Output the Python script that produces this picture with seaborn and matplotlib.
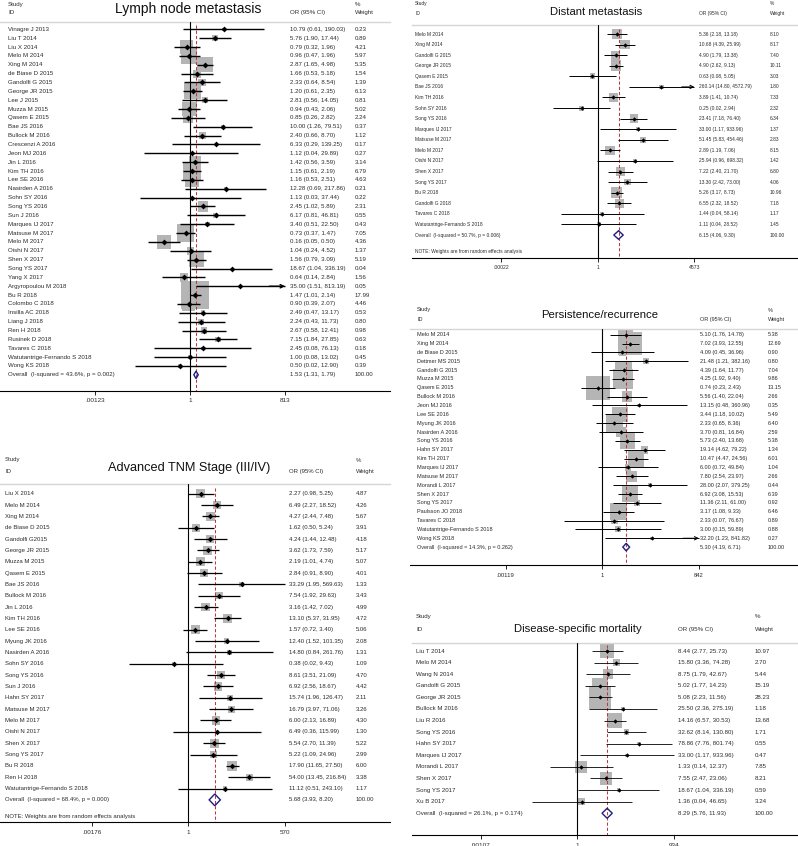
import matplotlib
matplotlib.use("Agg")
import matplotlib.pyplot as plt
import numpy as np
import pandas as pd
import seaborn as sns
from matplotlib.transforms import blended_transform_factory
from matplotlib.ticker import NullLocator, FixedLocator, FixedFormatter

# ---------------- DATA ----------------
# Lymph node metastasis
lnm_study = ["Vinagre J 2013", "Liu T 2014", "Liu X 2014", "Melo M 2014", "Xing M 2014",
             "de Biase D 2015", "Gandolfi G 2015", "George JR 2015", "Lee J 2015", "Muzza M 2015",
             "Qasem E 2015", "Bae JS 2016", "Bullock M 2016", "Crescenzi A 2016", "Jeon MJ 2016",
             "Jin L 2016", "Kim TH 2016", "Lee SE 2016", "Nasirden A 2016", "Sohn SY 2016",
             "Song YS 2016", "Sun J 2016", "Marques IJ 2017", "Matsuse M 2017", "Melo M 2017",
             "Oishi N 2017", "Shen X 2017", "Song YS 2017", "Yang X 2017", "Argyropoulou M 2018",
             "Bu R 2018", "Colombo C 2018", "Insilla AC 2018", "Liang J 2018", "Ren H 2018",
             "Rusinek D 2018", "Tavares C 2018", "Watutantrige-Fernando S 2018", "Wong KS 2018"]
lnm_or = [10.79, 5.76, 0.79, 0.96, 2.87, 1.66, 2.33, 1.20, 2.81, 0.94, 0.85, 10.00, 2.40, 6.33, 1.12,
          1.42, 1.15, 1.16, 12.28, 1.13, 2.45, 6.17, 3.40, 0.73, 0.16, 1.04, 1.56, 18.67, 0.64, 35.00,
          1.47, 0.90, 2.49, 2.24, 2.67, 7.15, 2.45, 1.00, 0.50]
lnm_lo = [0.61, 1.90, 0.32, 0.47, 1.65, 0.53, 0.64, 0.61, 0.56, 0.43, 0.26, 1.26, 0.66, 0.29, 0.04,
          0.56, 0.61, 0.53, 0.69, 0.03, 1.02, 0.81, 0.51, 0.37, 0.05, 0.24, 0.79, 1.04, 0.14, 1.51,
          1.01, 0.39, 0.47, 0.43, 0.58, 1.84, 0.08, 0.08, 0.02]
lnm_hi = [190.03, 17.44, 1.96, 1.96, 4.98, 5.18, 8.54, 2.35, 14.05, 2.06, 2.82, 79.51, 8.70, 139.25, 29.89,
          3.59, 2.19, 2.51, 217.86, 37.44, 5.89, 46.81, 22.50, 1.47, 0.50, 4.52, 3.09, 336.19, 2.84, 813.19,
          2.14, 2.07, 13.17, 11.73, 12.41, 27.85, 76.13, 13.02, 12.90]
lnm_wt = [0.23, 0.89, 4.21, 5.97, 5.35, 1.54, 1.39, 6.13, 0.81, 5.02, 2.24, 0.37, 1.12, 0.17, 0.27,
          3.14, 6.79, 4.63, 0.21, 0.22, 2.31, 0.55, 0.43, 7.05, 4.36, 1.37, 5.19, 0.04, 1.56, 0.05,
          17.99, 4.46, 0.53, 0.80, 0.98, 0.63, 0.18, 0.45, 0.39]
lnm_overall = [1.53, 1.31, 1.79]
lnm_i2, lnm_p = "43.6", "0.002"
lnm_ticks = [0.00123, 1, 813]
lnm_ticklabels = [".00123", "1", "813"]
lnm_arrows = ["Argyropoulou M 2018"]

# Advanced TNM stage
tnm_study = ["Liu X 2014", "Melo M 2014", "Xing M 2014", "de Biase D 2015", "Gandolfi G2015",
             "George JR 2015", "Muzza M 2015", "Qasem E 2015", "Bae JS 2016", "Bullock M 2016",
             "Jin L 2016", "Kim TH 2016", "Lee SE 2016", "Myung JK 2016", "Nasirden A 2016",
             "Sohn SY 2016", "Song YS 2016", "Sun J 2016", "Hahn SY 2017", "Matsuse M 2017",
             "Melo M 2017", "Oishi N 2017", "Shen X 2017", "Song YS 2017", "Bu R 2018",
             "Ren H 2018", "Watutantrige-Fernando S 2018"]
tnm_or = [2.27, 6.49, 4.27, 1.62, 4.24, 3.62, 2.19, 2.84, 33.29, 7.54, 3.16, 13.10, 1.57, 12.40, 14.80,
          0.38, 8.61, 6.92, 15.74, 16.79, 6.00, 6.49, 5.54, 5.22, 17.90, 54.00, 11.12]
tnm_lo = [0.98, 2.27, 2.44, 0.50, 1.44, 1.73, 1.01, 0.91, 1.95, 1.92, 1.42, 5.37, 0.72, 1.52, 0.84,
          0.02, 3.51, 2.56, 1.96, 3.97, 2.13, 0.36, 2.70, 1.09, 11.65, 13.45, 0.51]
tnm_hi = [5.25, 18.52, 7.48, 5.24, 12.48, 7.59, 4.74, 8.90, 569.63, 29.63, 7.02, 31.95, 3.40, 101.35, 261.76,
          9.43, 21.09, 18.67, 126.47, 71.06, 16.89, 115.99, 11.39, 24.96, 27.50, 216.84, 243.10]
tnm_wt = [4.87, 4.26, 5.67, 3.91, 4.18, 5.17, 5.07, 4.01, 1.33, 3.43, 4.99, 4.72, 5.06, 2.08, 1.31,
          1.09, 4.70, 4.42, 2.11, 3.26, 4.30, 1.30, 5.22, 2.99, 6.00, 3.38, 1.17]
tnm_overall = [5.68, 3.93, 8.20]
tnm_i2, tnm_p = "68.4", "0.000"
tnm_ticks = [0.00176, 1, 570]
tnm_ticklabels = [".00176", "1", "570"]
tnm_arrows = []

# Distant metastasis
dm_study = ["Melo M 2014", "Xing M 2014", "Gandolfi G 2015", "George JR 2015", "Qasem E 2015",
            "Bae JS 2016", "Kim TH 2016", "Sohn SY 2016", "Song YS 2016", "Marques IJ 2017",
            "Matsuse M 2017", "Melo M 2017", "Oishi N 2017", "Shen X 2017", "Song YS 2017",
            "Bu R 2018", "Gandolfi G 2018", "Tavares C 2018", "Watutantrige-Fernando S 2018"]
dm_or = [5.36, 10.68, 4.90, 4.90, 0.63, 260.14, 3.89, 0.25, 23.41, 33.00, 51.45, 2.89, 25.94, 7.22,
         13.30, 5.26, 6.55, 1.44, 1.11]
dm_lo = [2.18, 4.39, 1.79, 2.62, 0.08, 14.80, 1.41, 0.02, 7.18, 1.17, 5.83, 1.19, 0.96, 2.40,
         2.42, 3.17, 2.32, 0.04, 0.04]
dm_hi = [13.18, 25.99, 13.38, 9.13, 5.05, 4572.79, 10.74, 2.94, 76.40, 933.96, 454.46, 7.06, 698.32, 21.70,
         73.00, 8.73, 18.52, 58.14, 28.52]
dm_wt = [8.10, 8.17, 7.40, 10.11, 3.03, 1.80, 7.33, 2.32, 6.34, 1.37, 2.83, 8.15, 1.42, 6.80,
         4.06, 10.96, 7.18, 1.17, 1.45]
dm_overall = [6.15, 4.06, 9.30]
dm_i2, dm_p = "50.7", "0.006"
dm_ticks = [0.00022, 1, 4573]
dm_ticklabels = [".00022", "1", "4573"]
dm_arrows = ["Bae JS 2016"]

# Persistence / recurrence
pr_study = ["Melo M 2014", "Xing M 2014", "de Biase D 2015", "Dettmer MS 2015", "Gandolfi G 2015",
            "Muzza M 2015", "Qasem E 2015", "Bullock M 2016", "Jeon MJ 2016", "Lee SE 2016",
            "Myung JK 2016", "Nasirden A 2016", "Song YS 2016", "Hahn SY 2017", "Kim TH 2017",
            "Marques IJ 2017", "Matsuse M 2017", "Morandi L 2017", "Shen X 2017", "Song YS 2017",
            "Paulsson JO 2018", "Tavares C 2018", "Watutantrige-Fernando S 2018", "Wong KS 2018"]
pr_or = [5.10, 7.02, 4.09, 21.48, 4.39, 4.25, 0.74, 5.56, 13.15, 3.44, 2.33, 3.70, 5.73, 19.14, 10.47,
         6.00, 7.80, 28.00, 6.92, 11.36, 3.17, 2.33, 3.00, 32.20]
pr_lo = [1.76, 3.93, 0.45, 1.21, 1.64, 1.92, 0.23, 1.40, 0.48, 1.18, 0.65, 0.81, 2.40, 4.62, 4.47,
         0.72, 2.54, 2.07, 3.08, 2.11, 1.08, 0.07, 0.15, 1.23]
pr_hi = [14.78, 12.55, 36.96, 382.16, 11.77, 9.40, 2.43, 22.04, 360.96, 10.02, 8.36, 16.84, 13.68, 79.22, 24.56,
         49.84, 23.97, 379.25, 15.53, 61.00, 9.33, 76.67, 59.89, 841.82]
pr_wt = [5.38, 12.69, 0.90, 0.80, 7.04, 9.86, 13.15, 2.66, 0.35, 5.49, 6.40, 2.59, 5.38, 1.34, 6.01,
         1.04, 2.66, 0.44, 6.39, 0.92, 6.46, 0.89, 0.88, 0.27]
pr_overall = [5.30, 4.19, 6.71]
pr_i2, pr_p = "14.3", "0.262"
pr_ticks = [0.00119, 1, 842]
pr_ticklabels = [".00119", "1", "842"]
pr_arrows = ["Wong KS 2018"]

# Disease-specific mortality
ds_study = ["Liu T 2014", "Melo M 2014", "Wang N 2014", "Gandolfi G 2015", "George JR 2015",
            "Bullock M 2016", "Liu R 2016", "Song YS 2016", "Hahn SY 2017", "Marques IJ 2017",
            "Morandi L 2017", "Shen X 2017", "Song YS 2017", "Xu B 2017"]
ds_or = [8.44, 15.80, 8.75, 5.02, 5.08, 25.50, 14.16, 32.62, 78.86, 33.00, 1.33, 7.55, 18.67, 1.36]
ds_lo = [2.77, 3.36, 1.79, 1.77, 2.23, 2.36, 6.57, 8.14, 7.76, 1.17, 0.14, 2.47, 1.04, 0.04]
ds_hi = [25.73, 74.28, 42.67, 14.23, 11.56, 275.19, 30.53, 130.80, 801.74, 933.96, 12.37, 23.06, 336.19, 46.65]
ds_wt = [10.97, 2.70, 5.44, 15.19, 28.23, 1.18, 13.68, 1.71, 0.55, 0.47, 7.85, 8.21, 0.59, 3.24]
ds_overall = [8.29, 5.76, 11.93]
ds_i2, ds_p = "26.1", "0.174"
ds_ticks = [0.00107, 1, 934]
ds_ticklabels = [".00107", "1", "934"]
ds_arrows = []

NOTE = "NOTE: Weights are from random effects analysis"

# ---------------- FIGURE ----------------
sns.set_theme(style="white")
plt.rcParams["font.family"] = ["Liberation Sans", "DejaVu Sans"]

W, H = 798, 846
fig = plt.figure(figsize=(W / 100, H / 100), dpi=100)
TXT = "#2b2b2b"


def draw_panel(title, studies, ors, los, his, wts, overall, i2, pval, ticks, ticklabels,
               arrows, note, L):
    left, right, top, bottom = L["left"], L["right"], L["top"], L["bottom"]
    ax = fig.add_axes([left / W, 1 - bottom / H, (right - left) / W, (bottom - top) / H])
    ax.set_xscale("log")
    lo_dec = -(L["one"] - left) / L["dec"]
    hi_dec = (right - L["one"]) / L["dec"]
    ax.set_xlim(10 ** lo_dec, 10 ** hi_dec)
    n = len(studies)
    ybot = (bottom - L["row0"]) / L["step"]
    ytop = (top - L["row0"]) / L["step"]
    ax.set_ylim(ybot, ytop)

    df = pd.DataFrame({"study": studies, "or": ors, "lo": los, "hi": his, "wt": wts,
                       "row": np.arange(n)})
    wmax = max(wts)
    smax = (0.72 * L["k"]) ** 2 * wmax
    sns.scatterplot(data=df, x="or", y="row", size="wt", sizes=(0, smax), size_norm=(0, wmax),
                    marker="s", color="#b5b5b5", linewidth=0, legend=False, ax=ax, zorder=2)

    # reference lines
    ax.axvline(1, color="black", lw=0.8, zorder=3)
    est, clo, chi = overall
    ax.plot([est, est], [-0.5, ybot], ls=(0, (3, 2)), color="#b83a3a", lw=0.75, zorder=3)

    # confidence intervals
    tmin, tmax = ticks[0], ticks[-1]
    lo_c = df["lo"].clip(lower=tmin)
    hi_c = df["hi"].clip(upper=tmax)
    ax.hlines(df["row"], lo_c, hi_c, color="black", lw=L["lw"], zorder=4)
    for _, r in df[df["study"].isin(arrows)].iterrows():
        ax.annotate("", xy=(min(r["hi"], tmax), r["row"]),
                    xytext=(min(r["hi"], tmax) / 3, r["row"]),
                    arrowprops=dict(arrowstyle="->", lw=L["lw"], color="black",
                                    mutation_scale=6, shrinkA=0, shrinkB=0), zorder=4)

    sns.scatterplot(data=df, x="or", y="row", marker="D", s=L["pt"], color="black",
                    linewidth=0, legend=False, ax=ax, zorder=5)

    # overall diamond
    h = L["dh"]
    ax.fill([clo, est, chi, est, clo], [n, n - h, n, n + h, n], facecolor="none",
            edgecolor="#1e1e82", lw=1.0, zorder=6)

    # text columns
    trans = blended_transform_factory(ax.transAxes, ax.transData)
    fx = lambda px: (px - left) / (right - left)
    fy = lambda py: (py - L["row0"]) / L["step"]
    fs = L["fs"]
    for i, r in df.iterrows():
        ax.text(fx(L["sx"]), i, r["study"], fontsize=fs, va="center", ha="left",
                transform=trans, color=TXT)
        ax.text(fx(L["ox"]), i, f"{r['or']:.2f} ({r['lo']:.2f}, {r['hi']:.2f})", fontsize=fs,
                va="center", ha="left", transform=trans, color=TXT)
        ax.text(fx(L["wx"]), i, f"{r['wt']:.2f}", fontsize=fs, va="center", ha="left",
                transform=trans, color=TXT)
    ax.text(fx(L["sx"]), n, f"Overall  (I-squared = {i2}%, p = {pval})", fontsize=fs,
            va="center", ha="left", transform=trans, color=TXT)
    ax.text(fx(L["ox"]), n, f"{est:.2f} ({clo:.2f}, {chi:.2f})", fontsize=fs,
            va="center", ha="left", transform=trans, color=TXT)
    ax.text(fx(L["wx"]), n, f"{sum(wts):.2f}" if abs(sum(wts) - 100) > 0.05 else "100.00",
            fontsize=fs, va="center", ha="left", transform=trans, color=TXT)

    ax.text(fx(L["sx"]), fy(L["h1"]), "Study", fontsize=fs, va="center", ha="left",
            transform=trans, color=TXT)
    ax.text(fx(L["sx"]), fy(L["h2"]), "ID", fontsize=fs, va="center", ha="left",
            transform=trans, color=TXT)
    ax.text(fx(L["ox"]), fy(L["h2"]), "OR (95% CI)", fontsize=fs, va="center", ha="left",
            transform=trans, color=TXT)
    ax.text(fx(L["wx"]), fy(L["h1"]), "%", fontsize=fs, va="center", ha="left",
            transform=trans, color=TXT)
    ax.text(fx(L["wx"]), fy(L["h2"]), "Weight", fontsize=fs, va="center", ha="left",
            transform=trans, color=TXT)
    ax.text(fx(L["tx"]), fy(L["ty"]), title, fontsize=L["tfs"], va="center", ha="center",
            transform=trans, color="#111111")
    if note:
        ax.text(fx(L["sx"]), fy(L["ny"]), NOTE, fontsize=fs, va="center", ha="left",
                transform=trans, color=TXT)

    # axes styling
    for s in ["left", "right"]:
        ax.spines[s].set_visible(False)
    ax.spines["top"].set_color("#d6d6d6")
    ax.spines["top"].set_linewidth(1.0)
    ax.spines["bottom"].set_color("black")
    ax.spines["bottom"].set_linewidth(0.8)
    ax.set_yticks([])
    ax.xaxis.set_major_locator(FixedLocator(ticks))
    ax.xaxis.set_major_formatter(FixedFormatter(ticklabels))
    ax.xaxis.set_minor_locator(NullLocator())
    ax.tick_params(axis="x", direction="out", length=3, width=0.6, pad=2.5,
                   labelsize=fs * 1.05, labelcolor=TXT, color="black", bottom=True)
    ax.set_xlabel("")
    ax.set_ylabel("")
    ax.grid(False)
    return ax


L_lnm = dict(left=0, right=390, top=22, bottom=390.7, one=190, dec=32.65, row0=29.3, step=8.86,
             sx=8, ox=290, wx=355, h1=4.5, h2=12.7, tx=188, ty=9, fs=4.4, tfs=10, k=6.6,
             lw=1.0, pt=9, dh=0.42)
L_tnm = dict(left=0, right=390, top=484, bottom=822, one=188.3, dec=35.1, row0=493.7, step=11.34,
             sx=5, ox=289.3, wx=356, h1=460, h2=471.7, tx=189, ty=468, fs=4.3, tfs=9.2, k=3.9,
             lw=0.9, pt=8, dh=0.52, ny=816.7)
L_dm = dict(left=412, right=798, top=25, bottom=257.7, one=597.7, dec=26.4, row0=34, step=10.58,
            sx=415, ox=699, wx=770, h1=3.2, h2=13.3, tx=596, ty=12, fs=3.5, tfs=8.1, k=3.3,
            lw=0.7, pt=5, dh=0.4, ny=251.7)
L_pr = dict(left=410, right=798, top=329.3, bottom=565, one=602.3, dec=33.0, row0=334.7, step=8.85,
            sx=417, ox=700, wx=768, h1=310, h2=319.3, tx=600, ty=315, fs=4.0, tfs=8.2, k=6.6,
            lw=0.7, pt=5, dh=0.43)
L_ds = dict(left=412, right=798, top=643.3, bottom=835, one=577.3, dec=32.5, row0=651, step=11.59,
            sx=416, ox=678, wx=755, h1=616.7, h2=629.3, tx=578, ty=629, fs=4.4, tfs=8.1, k=4.2,
            lw=0.6, pt=5, dh=0.43)

draw_panel("Lymph node metastasis", lnm_study, lnm_or, lnm_lo, lnm_hi, lnm_wt, lnm_overall,
           lnm_i2, lnm_p, lnm_ticks, lnm_ticklabels, lnm_arrows, False, L_lnm)
draw_panel("Advanced TNM Stage (III/IV)", tnm_study, tnm_or, tnm_lo, tnm_hi, tnm_wt, tnm_overall,
           tnm_i2, tnm_p, tnm_ticks, tnm_ticklabels, tnm_arrows, True, L_tnm)
draw_panel("Distant metastasis", dm_study, dm_or, dm_lo, dm_hi, dm_wt, dm_overall,
           dm_i2, dm_p, dm_ticks, dm_ticklabels, dm_arrows, True, L_dm)
draw_panel("Persistence/recurrence", pr_study, pr_or, pr_lo, pr_hi, pr_wt, pr_overall,
           pr_i2, pr_p, pr_ticks, pr_ticklabels, pr_arrows, False, L_pr)
draw_panel("Disease-specific mortality", ds_study, ds_or, ds_lo, ds_hi, ds_wt, ds_overall,
           ds_i2, ds_p, ds_ticks, ds_ticklabels, ds_arrows, False, L_ds)

fig.savefig("out.png", dpi=100, facecolor="white")
